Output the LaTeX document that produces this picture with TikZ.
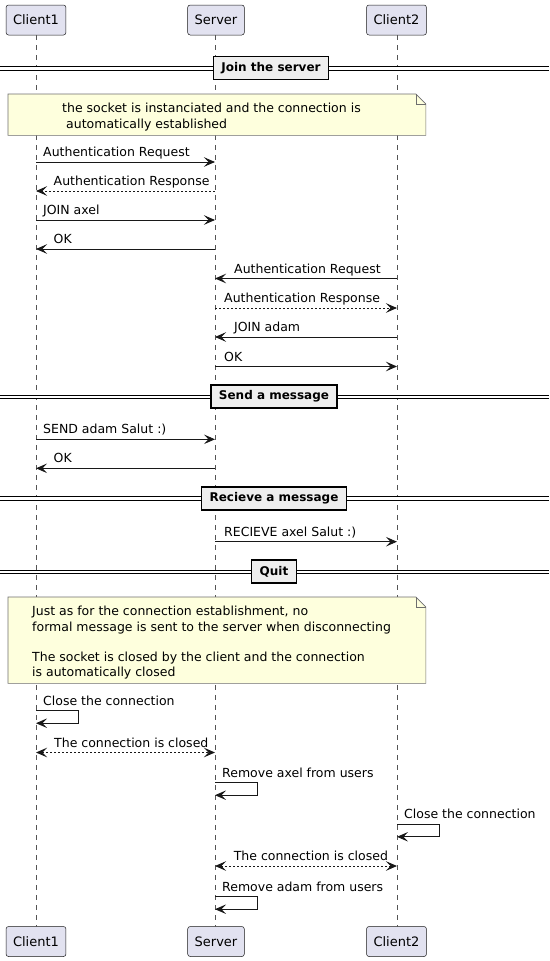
\documentclass[tikz,border=0pt]{standalone}
\usepackage{fontspec}
\setmainfont{DejaVu Sans}
\usetikzlibrary{arrows.meta}
\definecolor{lc}{HTML}{181818}
\definecolor{pfill}{HTML}{E2E2F0}
\definecolor{nfill}{HTML}{FEFFDD}
\definecolor{dfill}{HTML}{EEEEEE}
\definecolor{lifec}{HTML}{555555}
\definecolor{nline}{HTML}{6E6E6E}
\newcommand\mmsg[7]{%
  \coordinate (#1a) at (#2,#4);
  \coordinate (#1b) at (#3,#4);
  \draw[#5] (#1a) -- (#1b);
  \node[lbl] (#1t) at (#6,#4-5.5) {#7};}
\newcommand\mself[4]{%
  \coordinate (#1a) at (#2,#3);
  \coordinate (#1b) at (#2,#3+12.5);
  \draw[msg] (#1a) -- ++(42.5,0) |- (#1b);
  \node[lbl] (#1t) at (#2+7,#3-5.5) {#4};}
\begin{document}
\begin{tikzpicture}[x=1pt,y=-1pt,
  part/.style={draw=lc, line width=0.5pt, fill=pfill, rounded corners=2.5pt,
    minimum height=30pt, inner xsep=7pt, font=\fontsize{13}{15}\selectfont},
  life/.style={draw=lifec, line width=0.5pt, dash pattern=on 5pt off 5pt},
  tipa/.tip={Stealth[length=11pt,width=9.5pt,inset=4.5pt]},
  msg/.style={draw=lc, line width=0.9pt, -tipa},
  rsp/.style={msg, dash pattern=on 2pt off 2pt},
  both/.style={draw=lc, line width=0.9pt, dash pattern=on 2pt off 2pt, tipa-tipa},
  lbl/.style={anchor=base west, inner sep=0pt, font=\fontsize{12.5}{15}\selectfont, text=black},
  sepline/.style={draw=black, line width=1pt, double=white, double distance=2.2pt},
  divbox/.style={draw=black, line width=1.5pt, fill=dfill, minimum height=23pt,
    inner xsep=8pt, font=\bfseries\fontsize{12}{14}\selectfont},
  notebox/.style={anchor=north west, inner sep=0pt, draw=none},
  noteline/.style={draw=nline, line width=0.6pt, fill=nfill},
]
\useasboundingbox (0,0) rectangle (549,961);

% participants
\node[part] (c1top) at (36,20) {Client1};
\node[part] (stop)  at (216,20) {Server};
\node[part] (c2top) at (396.5,20) {Client2};
\node[part] (c1bot) at (36,941.5) {Client1};
\node[part] (sbot)  at (216,941.5) {Server};
\node[part] (c2bot) at (396.5,941.5) {Client2};

% lifelines
\coordinate (l1a) at (36,35); \coordinate (l1b) at (36,926.5);
\coordinate (l2a) at (215,35); \coordinate (l2b) at (215,926.5);
\coordinate (l3a) at (397,35); \coordinate (l3b) at (397,926.5);
\draw[life] (l1a) -- (l1b);
\draw[life] (l2a) -- (l2b);
\draw[life] (l3a) -- (l3b);

% divider: Join the server
\coordinate (d1l) at (0,68.5); \coordinate (d1r) at (549,68.5);
\draw[sepline] (d1l) -- (d1r);
\node[divbox] (d1) at (271,68) {Join the server};

% note 1
\node[notebox, minimum width=417.5pt, minimum height=41pt] (n1) at (8,94) {};
\draw[noteline] (n1.north west) -- ([xshift=-10pt]n1.north east) -- ([yshift=-10pt]n1.north east)
  -- (n1.south east) -- (n1.south west) -- cycle;
\draw[noteline, fill=none] ([xshift=-10pt]n1.north east) -- ([xshift=-10pt,yshift=-10pt]n1.north east) -- ([yshift=-10pt]n1.north east);
\node[lbl] (n1t1) at (62,112) {the socket is instanciated and the connection is};
\node[lbl] (n1t2) at (66,128) {automatically established};

% join messages
\mmsg{m1}{36}{215}{162}{msg}{43}{Authentication Request}
\mmsg{m2}{215}{36}{191}{rsp}{53.5}{Authentication Response}
\mmsg{m3}{36}{215}{220}{msg}{43}{JOIN axel}
\mmsg{m4}{215}{36}{249}{msg}{53.5}{OK}
\mmsg{m5}{397}{215}{278.5}{msg}{234}{Authentication Request}
\mmsg{m6}{215}{397}{308}{rsp}{224}{Authentication Response}
\mmsg{m7}{397}{215}{337}{msg}{234}{JOIN adam}
\mmsg{m8}{215}{397}{366.5}{msg}{224}{OK}

% divider: Send a message
\coordinate (d2l) at (0,397); \coordinate (d2r) at (549,397);
\draw[sepline] (d2l) -- (d2r);
\node[divbox] (d2) at (274,396.5) {Send a message};

\mmsg{m9}{36}{215}{439.3}{msg}{43}{SEND adam Salut :)}
\mmsg{m10}{215}{36}{468.3}{msg}{53.5}{OK}

% divider: Recieve a message
\coordinate (d3l) at (0,498.5); \coordinate (d3r) at (549,498.5);
\draw[sepline] (d3l) -- (d3r);
\node[divbox] (d3) at (274,498.5) {Recieve a message};

\mmsg{m11}{215}{397}{541.7}{msg}{224}{RECIEVE axel Salut :)}

% divider: Quit
\coordinate (d4l) at (0,572); \coordinate (d4r) at (549,572);
\draw[sepline] (d4l) -- (d4r);
\node[divbox] (d4) at (274,571.5) {Quit};

% note 2
\node[notebox, minimum width=417.5pt, minimum height=86pt] (n2) at (8,597) {};
\draw[noteline] (n2.north west) -- ([xshift=-10pt]n2.north east) -- ([yshift=-10pt]n2.north east)
  -- (n2.south east) -- (n2.south west) -- cycle;
\draw[noteline, fill=none] ([xshift=-10pt]n2.north east) -- ([xshift=-10pt,yshift=-10pt]n2.north east) -- ([yshift=-10pt]n2.north east);
\node[lbl] (n2t1) at (32,615) {Just as for the connection establishment, no};
\node[lbl] (n2t2) at (32,631) {formal message is sent to the server when disconnecting};
\node[lbl] (n2t3) at (32,661) {The socket is closed by the client and the connection};
\node[lbl] (n2t4) at (32,676.5) {is automatically closed};

% quit messages
\mself{s1}{36}{710.7}{Close the connection}
\mmsg{m12}{36}{215}{752.5}{both}{54}{The connection is closed}
\mself{s2}{215}{782.7}{Remove axel from users}
\mself{s3}{397}{824.3}{Close the connection}
\mmsg{m13}{215}{397}{866}{both}{233.6}{The connection is closed}
\mself{s4}{215}{896.7}{Remove adam from users}
\end{tikzpicture}
\end{document}
